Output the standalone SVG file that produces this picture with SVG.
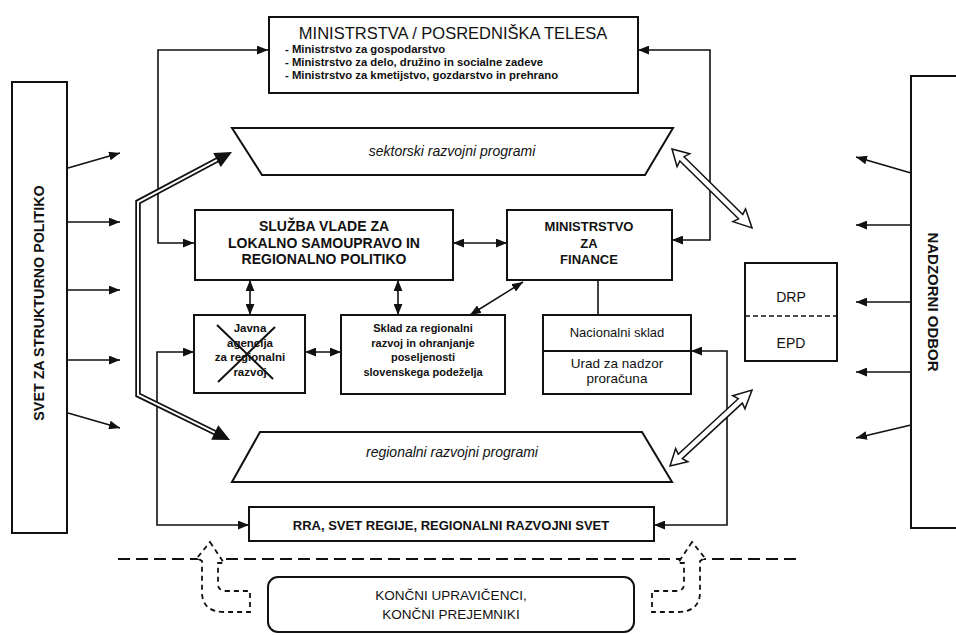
<svg xmlns="http://www.w3.org/2000/svg" width="956" height="635" viewBox="0 0 956 635">
<style>
  .box{fill:#fff;stroke:#111;stroke-width:2}
  .ln{fill:none;stroke:#111;stroke-width:1.6}
  .t{font-family:"Liberation Sans",Arial,sans-serif;fill:#111;text-anchor:middle}
  .b{font-weight:bold}
  .it{font-style:italic}
  .st{text-anchor:start}
  .hol{fill:#fff;stroke:#111;stroke-width:1.5;stroke-linejoin:miter}
  .dash{fill:#fff;stroke:#111;stroke-width:1.8;stroke-dasharray:5 4}
</style>
<defs>
  <marker id="ah" viewBox="0 0 10 8" refX="10" refY="4" markerWidth="11" markerHeight="9" markerUnits="userSpaceOnUse" orient="auto-start-reverse">
    <path d="M0,0 L10,4 L0,8 z" fill="#111"/>
  </marker>
</defs>
<rect width="956" height="635" fill="#fff"/>

<g id="connectors">
  <path class="ln" d="M268 50 H158 V243 H194" marker-start="url(#ah)" marker-end="url(#ah)"/>
  <path class="ln" d="M638 50 H710 V240 H672" marker-start="url(#ah)" marker-end="url(#ah)"/>
  <path class="ln" d="M194 352 H157 V525 H249" marker-start="url(#ah)" marker-end="url(#ah)"/>
  <path class="ln" d="M691 351 H727 V525 H654" marker-start="url(#ah)" marker-end="url(#ah)"/>
  <path class="ln" d="M453 243 H507" marker-start="url(#ah)" marker-end="url(#ah)"/>
  <path class="ln" d="M250 280 V315" marker-start="url(#ah)" marker-end="url(#ah)"/>
  <path class="ln" d="M398 280 V315" marker-start="url(#ah)" marker-end="url(#ah)"/>
  <path class="ln" d="M305 352 H341" marker-start="url(#ah)" marker-end="url(#ah)"/>
  <path class="ln" d="M470 315 L523 282" marker-start="url(#ah)" marker-end="url(#ah)"/>
  <path class="ln" d="M598 280 V315"/>
  <!-- left side arrows -->
  <path class="ln" d="M68 168 L120 153" marker-end="url(#ah)"/>
  <path class="ln" d="M68 222 H120" marker-end="url(#ah)"/>
  <path class="ln" d="M68 290 H120" marker-end="url(#ah)"/>
  <path class="ln" d="M68 360 H120" marker-end="url(#ah)"/>
  <path class="ln" d="M68 413 L120 428" marker-end="url(#ah)"/>
  <!-- right side arrows -->
  <path class="ln" d="M911 173 L856 157" marker-end="url(#ah)"/>
  <path class="ln" d="M911 225 H856" marker-end="url(#ah)"/>
  <path class="ln" d="M911 302 H856" marker-end="url(#ah)"/>
  <path class="ln" d="M911 372 H856" marker-end="url(#ah)"/>
  <path class="ln" d="M911 425 L856 438" marker-end="url(#ah)"/>
  <!-- double-line arrow -->
  <polyline points="219.6,158.6 138,202 138,395 217.4,433.9" fill="none" stroke="#111" stroke-width="5.5" stroke-linejoin="miter"/>
  <polyline points="219.6,158.6 138,202 138,395 217.4,433.9" fill="none" stroke="#fff" stroke-width="2" stroke-linejoin="miter"/>
  <polygon points="0,0 -17,-8 -17,8" fill="#111" transform="translate(232 152) rotate(-28)"/>
  <polygon points="0,0 -17,-8 -17,8" fill="#111" transform="translate(230 440) rotate(26)"/>
  <!-- hollow double arrows -->
  <polygon class="hol" transform="translate(672 149) rotate(44.6)" points="0,0 16,-9 14,-3 96.4,-3 94.4,-9 112.4,0 94.4,9 96.4,3 14,3 16,9"/>
  <polygon class="hol" transform="translate(670 466) rotate(-42.8)" points="0,0 16,-9 14,-3 95.8,-3 93.8,-9 111.8,0 93.8,9 95.8,3 14,3 16,9"/>
  <!-- dashed separator -->
  <path d="M118 559 H800" fill="none" stroke="#111" stroke-width="2" stroke-dasharray="12 6"/>
  <!-- dashed curved arrows -->
  <path class="dash" d="M210 542 L224 563 L218 563 L218 584 Q218 591 226 591 L250 591 L250 612 L225 612 Q202 612 202 592 L202 561 L197 558 Z"/>
  <path class="dash" transform="translate(902 0) scale(-1 1)" d="M210 542 L224 563 L218 563 L218 584 Q218 591 226 591 L250 591 L250 612 L225 612 Q202 612 202 592 L202 561 L197 558 Z"/>
</g>

<g id="ministrstva">
  <rect class="box" x="269" y="17" width="369" height="76"/>
  <text class="t" x="453" y="39" font-size="16.5">MINISTRSTVA / POSREDNIŠKA TELESA</text>
  <text class="t b st" x="285" y="53" font-size="11.3">- Ministrstvo za gospodarstvo</text>
  <text class="t b st" x="285" y="66" font-size="11.3">- Ministrstvo za delo, družino in socialne zadeve</text>
  <text class="t b st" x="285" y="79" font-size="11.3">- Ministrstvo za kmetijstvo, gozdarstvo in prehrano</text>
</g>

<g id="svet">
  <rect class="box" x="12" y="82" width="55" height="451"/>
  <text class="t b" font-size="14.3" transform="translate(44 303) rotate(-90)">SVET ZA STRUKTURNO POLITIKO</text>
</g>

<g id="nadzorni">
  <path class="box" d="M960 76 H911 V528 H960" fill="#fff"/>
  <text class="t b" font-size="15" transform="translate(928 302) rotate(90)">NADZORNI ODBOR</text>
</g>

<g id="sektorski">
  <polygon class="box" points="232,128 673,128 645,175 262,175"/>
  <text class="t it" x="452" y="156" font-size="14">sektorski razvojni programi</text>
</g>

<g id="regionalni">
  <polygon class="box" points="260,432 642,432 672,482 232,482"/>
  <text class="t it" x="452" y="457" font-size="14">regionalni razvojni programi</text>
</g>

<g id="sluzba">
  <rect class="box" x="195" y="210" width="258" height="70"/>
  <text class="t b" x="324" y="231" font-size="14">SLUŽBA VLADE ZA</text>
  <text class="t b" x="324" y="248" font-size="14">LOKALNO SAMOUPRAVO IN</text>
  <text class="t b" x="324" y="264" font-size="14">REGIONALNO POLITIKO</text>
</g>

<g id="finance">
  <rect class="box" x="507" y="210" width="165" height="70"/>
  <text class="t b" x="589" y="231" font-size="13">MINISTRSTVO</text>
  <text class="t b" x="589" y="248" font-size="13">ZA</text>
  <text class="t b" x="589" y="264" font-size="13">FINANCE</text>
</g>

<g id="javna">
  <rect class="box" x="194" y="315" width="111" height="78"/>
  <text class="t b" x="250" y="332" font-size="11.5">Javna</text>
  <text class="t b" x="250" y="347" font-size="11.5">agencija</text>
  <text class="t b" x="250" y="361" font-size="11.5">za regionalni</text>
  <text class="t b" x="250" y="376" font-size="11.5">razvoj</text>
  <path d="M217 325 L273 379 M275 327 L218 382" stroke="#111" stroke-width="2" fill="none"/>
</g>

<g id="sklad">
  <rect class="box" x="341" y="315" width="164" height="79"/>
  <text class="t b" x="423" y="332" font-size="11">Sklad za regionalni</text>
  <text class="t b" x="423" y="347" font-size="11">razvoj in ohranjanje</text>
  <text class="t b" x="423" y="361" font-size="11">poseljenosti</text>
  <text class="t b" x="423" y="376" font-size="11">slovenskega podeželja</text>
</g>

<g id="nacionalni">
  <rect class="box" x="543" y="315" width="148" height="79"/>
  <line x1="543" y1="351" x2="691" y2="351" stroke="#111" stroke-width="2"/>
  <text class="t" x="617" y="337" font-size="13">Nacionalni  sklad</text>
  <text class="t" x="617" y="368" font-size="13.5">Urad za nadzor</text>
  <text class="t" x="617" y="383" font-size="13.5">proračuna</text>
</g>

<g id="drp-epd">
  <rect class="box" x="745" y="263" width="92" height="98" stroke-width="1.6"/>
  <line x1="745" y1="316" x2="837" y2="316" stroke="#111" stroke-width="1.5" stroke-dasharray="5 3"/>
  <text class="t" x="791" y="302" font-size="14">DRP</text>
  <text class="t" x="791" y="348" font-size="14">EPD</text>
</g>

<g id="rra">
  <rect class="box" x="249" y="507" width="405" height="34"/>
  <text class="t b" x="451" y="530" font-size="13">RRA, SVET REGIJE, REGIONALNI RAZVOJNI SVET</text>
</g>

<g id="koncni">
  <rect class="box" x="268" y="577" width="366" height="55" rx="10"/>
  <text class="t" x="451" y="600" font-size="13.5">KONČNI UPRAVIČENCI,</text>
  <text class="t" x="451" y="619" font-size="13.5">KONČNI PREJEMNIKI</text>
</g>
</svg>
